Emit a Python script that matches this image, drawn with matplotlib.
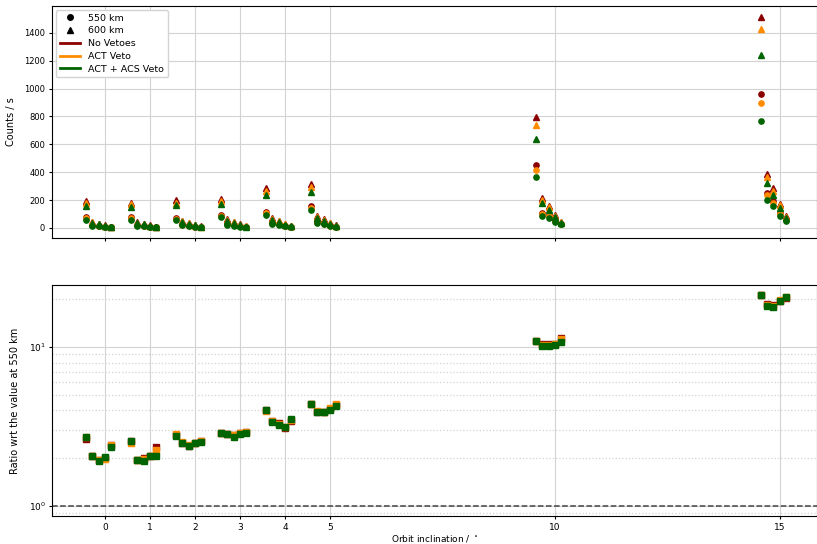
import numpy as np
import matplotlib
matplotlib.use("Agg")
import matplotlib.pyplot as plt
from matplotlib.lines import Line2D

# ============================================================
# DATA
# ============================================================
inclinations = [0, 1, 2, 3, 4, 5, 10, 15]
sub_offsets = [-0.42, -0.28, -0.14, 0.0, 0.14]   # 5 sub-samples per inclination
veto_names = ["No Vetoes", "ACT Veto", "ACT + ACS Veto"]
veto_colors = ["darkred", "darkorange", "darkgreen"]

# counts / s at 550 km (rows = inclination, cols = sub-sample)
c550_none = [[75, 21, 16, 9, 4.4], [75, 20, 15, 9, 4.4], [72, 25, 19, 10, 5],
             [95, 30, 21, 12.5, 6], [116, 37, 27, 15, 7.5], [159, 45, 34, 19, 10],
             [450, 110, 90, 52, 31], [958, 250, 190, 110, 62]]
c550_act = [[69, 19.5, 15, 8, 4], [69, 18.5, 14, 8, 4], [67, 23, 17, 9, 4.6],
            [87, 27.5, 19.5, 11.5, 5.7], [107, 34.5, 25, 14, 7], [146, 41, 31, 17, 9],
            [414, 101, 83, 48, 29], [894, 233, 178, 101, 57]]
c550_acs = [[60, 17, 13, 7, 3.5], [60, 16, 12, 7, 3.5], [58, 20, 15, 8, 4],
            [76, 24, 17, 10, 5], [93, 30, 22, 12, 6], [127, 36, 27, 15, 8],
            [362, 88, 72, 42, 25], [767, 203, 155, 88, 50]]

# counts / s at 600 km
c600_none = [[190, 44, 31, 18, 10], [182, 41, 30, 18, 9], [197, 52, 38, 22, 11],
             [208, 61, 43, 26, 12], [288, 72, 51, 28, 15], [316, 83, 61, 35, 18],
             [795, 217, 161, 92, 46], [1517, 390, 286, 174, 88]]
c600_act = [[178, 41, 29, 17, 9], [170, 39, 28, 17, 8], [182, 49, 35, 20, 10],
            [192, 57, 40, 24, 11], [262, 67, 48, 26, 14], [295, 78, 57, 33, 17],
            [741, 203, 150, 86, 43], [1426, 365, 267, 163, 82]]
c600_acs = [[161, 36, 25, 15, 8], [152, 34, 25, 15, 7], [162, 43, 31, 18, 9],
            [171, 50, 35, 21, 10], [238, 59, 42, 23, 12], [258, 68, 50, 29, 15],
            [640, 178, 132, 75, 38], [1239, 320, 234, 143, 72]]

# ratio wrt the value at 550 km
ratio_none = [[2.62, 2.07, 1.93, 2.00, 2.40], [2.55, 1.95, 2.00, 2.06, 2.33],
              [2.80, 2.50, 2.38, 2.48, 2.55], [2.89, 2.84, 2.80, 2.88, 2.92],
              [4.00, 3.40, 3.32, 3.10, 3.40], [4.37, 3.92, 3.90, 4.05, 4.30],
              [11.0, 10.4, 10.4, 10.45, 11.4], [21.3, 18.6, 18.5, 19.7, 20.4]]
ratio_act = [[2.70, 2.07, 1.95, 1.96, 2.40], [2.50, 1.94, 1.97, 2.06, 2.25],
             [2.82, 2.52, 2.40, 2.48, 2.55], [2.87, 2.82, 2.78, 2.87, 2.92],
             [3.95, 3.42, 3.30, 3.12, 3.45], [4.37, 3.93, 3.92, 4.15, 4.40],
             [10.96, 10.3, 10.3, 10.4, 11.2], [21.2, 18.5, 18.3, 19.8, 20.8]]
ratio_acs = [[2.73, 2.07, 1.91, 2.04, 2.36], [2.57, 1.94, 1.92, 2.06, 2.06],
             [2.75, 2.48, 2.37, 2.48, 2.52], [2.89, 2.84, 2.73, 2.84, 2.89],
             [4.04, 3.39, 3.25, 3.15, 3.51], [4.37, 3.90, 3.88, 4.00, 4.26],
             [10.96, 10.15, 10.15, 10.3, 10.8], [21.2, 18.3, 18.0, 19.6, 20.6]]

c550 = [c550_none, c550_act, c550_acs]
c600 = [c600_none, c600_act, c600_acs]
ratios = [ratio_none, ratio_act, ratio_acs]

# x position of every point = inclination + sub-sample offset
xpos = (np.array(inclinations)[:, None] + np.array(sub_offsets)[None, :]).ravel()

# ============================================================
# FIGURE
# ============================================================
plt.rcParams["font.size"] = 7
fig = plt.figure(figsize=(8.17, 5.44), dpi=100)
ax1 = fig.add_axes([0.0636, 0.5625, 0.936, 0.4265])
ax2 = fig.add_axes([0.0636, 0.0509, 0.936, 0.4258], sharex=ax1)

grid_kw = dict(color="lightgray", linewidth=0.8)

# --- top: counts / s ---
for col, a, b in zip(veto_colors, c550, c600):
    ax1.plot(xpos, np.ravel(a), "o", color=col, markersize=3.8, zorder=3)
    ax1.plot(xpos, np.ravel(b), "^", color=col, markersize=4.2, zorder=3)

ax1.set_ylabel("Counts / s", fontsize=7, labelpad=6)
ax1.set_yticks([0, 200, 400, 600, 800, 1000, 1200, 1400])
ax1.grid(True, **grid_kw)
ax1.set_axisbelow(True)
ax1.tick_params(labelbottom=False, labelsize=6, pad=2.5, length=2.5)

handles = [
    Line2D([], [], ls="", marker="o", color="black", markersize=4, label="550 km"),
    Line2D([], [], ls="", marker="^", color="black", markersize=4, label="600 km"),
]
for name, col in zip(veto_names, veto_colors):
    handles.append(Line2D([], [], color=col, lw=2, label=name))
ax1.legend(handles=handles, loc="upper left", fontsize=6.8, framealpha=1,
           edgecolor="lightgray", handlelength=2.2, borderaxespad=0.4,
           labelspacing=0.4)

# --- bottom: ratio ---
for col, r in zip(veto_colors, ratios):
    ax2.plot(xpos, np.ravel(r), "s", color=col, markersize=4.6, zorder=3)

ax2.axhline(1.0, color="#444444", ls="--", lw=1.1, zorder=2)
ax2.set_yscale("log")
ax2.set_ylim(0.857, 24.8)
ax2.grid(True, which="major", **grid_kw)
ax2.grid(True, which="minor", axis="y", color="lightgray", ls=":", lw=0.9)
ax2.set_axisbelow(True)
ax2.set_ylabel("Ratio wrt the value at 550 km", fontsize=7, labelpad=6)
ax2.set_xlabel("Orbit inclination / $^\\circ$", fontsize=6.5)
ax2.xaxis.set_label_coords(0.5, -0.072)
ax2.tick_params(labelsize=6.5, pad=2, length=2.5)
ax2.tick_params(which="minor", left=False)

ax2.set_xticks(inclinations)
ax2.set_xlim(-1.18, 15.82)

plt.savefig("out.png", dpi=100)
